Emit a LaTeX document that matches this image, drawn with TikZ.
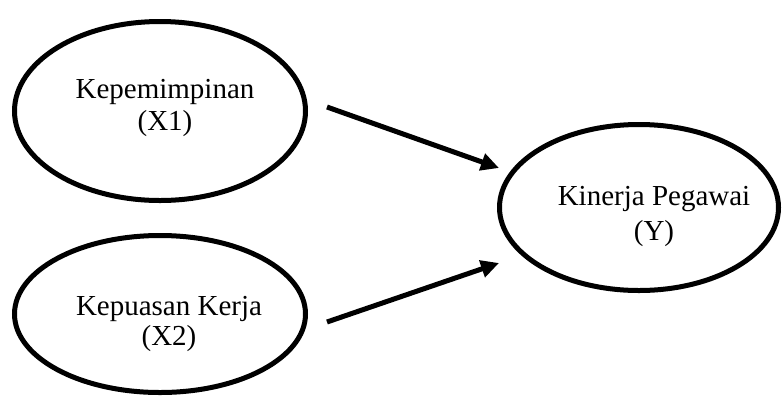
\documentclass[tikz,border=0pt]{standalone}
\usepackage{fontspec}
\setmainfont{Liberation Serif}
\usetikzlibrary{shapes.geometric,arrows.meta}
\begin{document}
\begin{tikzpicture}[x=0.5pt,y=-0.5pt,
  oval/.style={draw=black,line width=2.5pt,ellipse,inner sep=0pt},
  lbl/.style={anchor=base,inner sep=0pt,font=\fontsize{14.5}{16}\selectfont},
  conn/.style={line width=2.5pt,-{Triangle[length=9pt,width=8.5pt]}}]
\useasboundingbox (0,0) rectangle (782,398);
\fill[white] (0,0) rectangle (782,398);
\node[oval,minimum width=145.5pt,minimum height=89.5pt] (e1) at (160,111) {};
\node[oval,minimum width=145.5pt,minimum height=78.5pt] (e2) at (160,314) {};
\node[oval,minimum width=139.5pt,minimum height=83pt] (e3) at (639,207.5) {};
\node[lbl] (t1a) at (165,98) {Kepemimpinan};
\node[lbl] (t1b) at (165,130) {(X1)};
\node[lbl] (t2a) at (169,315) {Kepuasan Kerja};
\node[lbl] (t2b) at (169,345) {(X2)};
\node[lbl] (t3a) at (654,205) {Kinerja Pegawai};
\node[lbl] (t3b) at (654,240) {(Y)};
\coordinate (a1s) at (327,107);
\coordinate (a1e) at (499,168);
\coordinate (a2s) at (327,322);
\coordinate (a2e) at (499,263);
\draw[conn] (a1s) -- (a1e);
\draw[conn] (a2s) -- (a2e);
\end{tikzpicture}
\end{document}
